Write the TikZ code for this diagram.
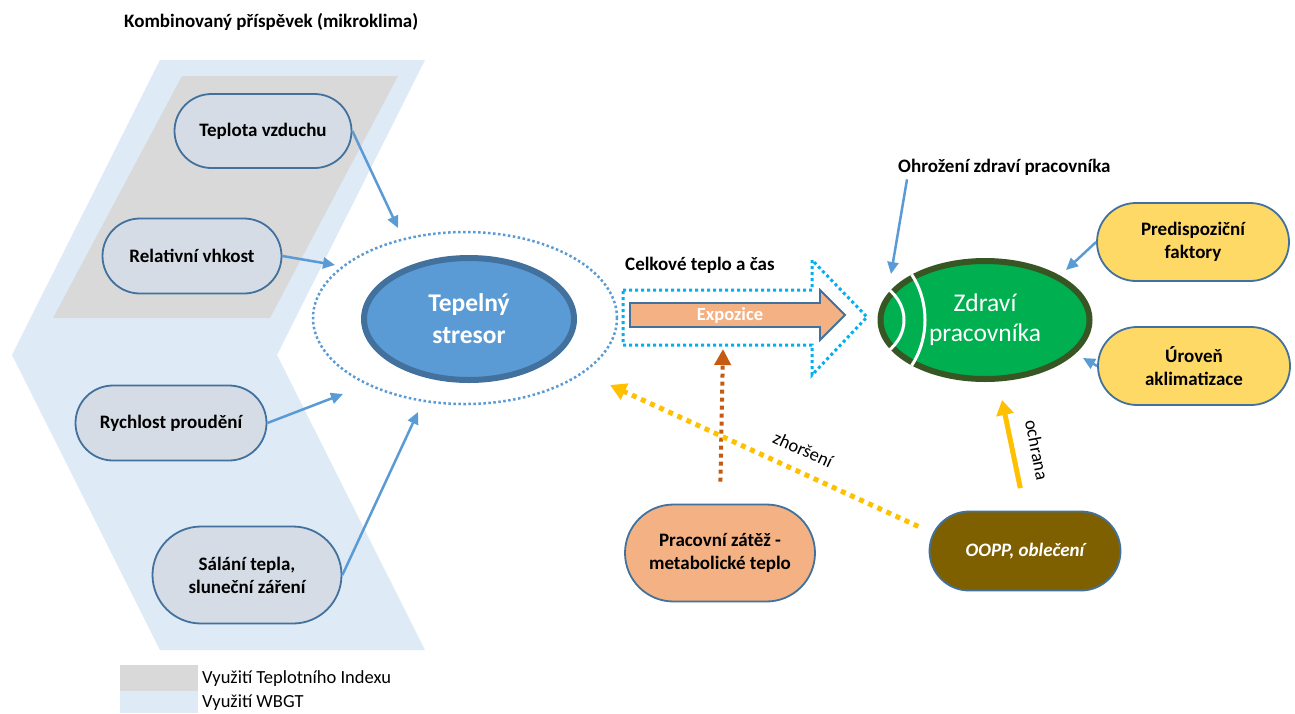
\documentclass[tikz,border=0pt]{standalone}
\usepackage{fontspec}
\setmainfont{Carlito}
\usetikzlibrary{shapes.misc,shapes.geometric,arrows.meta}
\definecolor{wbgt}{HTML}{DEEBF7}
\definecolor{tidx}{HTML}{D9D9D9}
\definecolor{boxfill}{HTML}{D6DCE5}
\definecolor{boxline}{HTML}{41719C}
\definecolor{arrblue}{HTML}{5B9BD5}
\definecolor{strfill}{HTML}{5B9BD5}
\definecolor{strline}{HTML}{41719C}
\definecolor{grfill}{HTML}{00B050}
\definecolor{grline}{HTML}{375623}
\definecolor{yelfill}{HTML}{FFD966}
\definecolor{orfill}{HTML}{F4B183}
\definecolor{oopfill}{HTML}{7F6000}
\definecolor{cyanline}{HTML}{00B0F0}
\definecolor{brownline}{HTML}{C55A11}
\definecolor{goldline}{HTML}{FFC000}
\begin{document}
\begin{tikzpicture}[x=1pt,y=-1pt,
  boldtxt/.style={font=\fontsize{19}{23}\selectfont\bfseries},
  regtxt/.style={font=\fontsize{18.5}{22}\selectfont},
  pill/.style={rounded rectangle, draw=boxline, line width=1.8pt, inner sep=0pt,
    align=center, boldtxt},
  leftbox/.style={pill, fill=boxfill},
  yellowbox/.style={pill, fill=yelfill},
  orangebox/.style={pill, fill=orfill},
  oopbox/.style={pill, fill=oopfill, text=white},
  bluearrow/.style={draw=arrblue, line width=2.5pt, -{Triangle[length=12pt,width=11pt]}},
  cyandot/.style={draw=cyanline, line width=3pt, dash pattern=on 3pt off 3pt},
  browndot/.style={draw=brownline, line width=4pt, dash pattern=on 4pt off 4pt,
    -{Triangle[length=16pt,width=16pt]}},
  golddot/.style={draw=goldline, line width=5pt, dash pattern=on 5pt off 5pt,
    -{Triangle[length=16pt,width=17pt]}},
  goldarrow/.style={draw=goldline, line width=5pt, -{Triangle[length=15pt,width=17pt]}},
]
\useasboundingbox (0,0) rectangle (1295,713);
\fill[white] (0,0) rectangle (1295,713);

% background zones
\fill[wbgt] (160,60) -- (425,60) -- (277,355) -- (425,650) -- (160,650) -- (12,355) -- cycle;
\fill[tidx] (182,76) -- (398,76) -- (270,318) -- (53,318) -- cycle;

% title
\node[boldtxt, anchor=west, inner sep=0pt] (title) at (124,22) {Kombinovaný příspěvek (mikroklima)};

% left factors
\node[leftbox, minimum width=177pt, minimum height=74pt] (tv) at (263,131) {Teplota vzduchu};
\node[leftbox, minimum width=179pt, minimum height=75pt] (rv) at (192,256) {Relativní vhkost};
\node[leftbox, minimum width=191pt, minimum height=75pt] (rp) at (171,423) {Rychlost proudění};
\node[leftbox, minimum width=189pt, minimum height=97pt] (st) at (247,575) {Sálání tepla,\\sluneční záření};

% stressor
\node[ellipse, draw=arrblue, line width=2.5pt, dash pattern=on 2.5pt off 2.5pt,
  minimum width=304pt, minimum height=172pt, inner sep=0pt] (zone) at (465,318) {};
\node[ellipse, fill=strfill, draw=strline, line width=6pt, minimum width=210pt,
  minimum height=122pt, inner sep=0pt, text=white, align=center,
  font=\fontsize{25.5}{32}\selectfont\bfseries] (ts) at (469,319) {Tepelný\\stresor};

% arrow ends
\coordinate (e1) at (398,228);
\coordinate (e2) at (335,265);
\coordinate (e3) at (343,394);
\coordinate (e4) at (418,412);
\draw[bluearrow] (tv.east) -- (e1);
\draw[bluearrow] (rv.east) -- (e2);
\draw[bluearrow] (rp.east) -- (e3);
\draw[bluearrow] (st.east) -- (e4);

% exposure arrows
\node[boldtxt, anchor=west, inner sep=0pt] (celk) at (625,265) {Celkové teplo a čas};
\draw[cyandot] (623,290) -- (812,290) -- (812,260) -- (867,317) -- (812,375) -- (812,345) -- (623,345) -- cycle;
\draw[fill=orfill, draw=boxline, line width=1.8pt] (630,303) -- (820,303) -- (820,290) -- (845,315) -- (820,340) -- (820,327) -- (630,327) -- cycle;
\node[text=white, font=\fontsize{18.5}{22}\selectfont\bfseries, inner sep=0pt] (expo) at (730,315) {Expozice};

% health
\node[ellipse, fill=grfill, draw=grline, line width=6pt, minimum width=209pt,
  minimum height=118pt, inner sep=0pt, text=white, align=center,
  font=\fontsize{25.5}{30}\selectfont] (zp) at (985,320) {Zdraví\\pracovníka};
\begin{scope}
  \clip (985,320) ellipse [x radius=108, y radius=62];
  \draw[white, line width=3pt] (850,320) ellipse [x radius=54, y radius=44];
  \draw[white, line width=3pt] (850,320) ellipse [x radius=75, y radius=80];
\end{scope}

\node[boldtxt, anchor=west, inner sep=0pt] (ohr) at (898,167) {Ohrožení zdraví pracovníka};
\coordinate (e5) at (891,274);
\draw[bluearrow] ([xshift=9pt, yshift=-4pt]ohr.south west) -- (e5);

\node[yellowbox, minimum width=192pt, minimum height=78pt] (pf) at (1193,242) {Predispoziční\\faktory};
\node[yellowbox, minimum width=192pt, minimum height=78pt] (ua) at (1194,366) {Úroveň\\aklimatizace};
\coordinate (e6) at (1066,270);
\coordinate (e7) at (1083,358);
\draw[bluearrow] (pf.west) -- (e6);
\draw[bluearrow] (ua.west) -- (e7);

% work load and protection
\node[orangebox, minimum width=190pt, minimum height=97pt] (pz) at (720,553) {Pracovní zátěž -\\metabolické teplo};
\node[oopbox, minimum width=191pt, minimum height=79pt] (oo) at (1025,551) {\itshape OOPP, oblečení};

\coordinate (b1) at (723,349);
\draw[browndot, shorten <=22pt] (pz.north) -- (b1);

\coordinate (y1) at (610,385);
\draw[golddot, shorten <=16pt] (oo.169) -- (y1) node[pos=0.43, above=13pt, sloped, regtxt, text=black, inner sep=0pt] (zh) {zhoršení};

\coordinate (o1) at (1002,400);
\draw[goldarrow, shorten <=23pt] (oo.north) -- (o1);
\node[regtxt, rotate=-79, inner sep=0pt] (och) at (1037,450) {ochrana};

% legend
\fill[tidx] (120,665) rectangle (198,691);
\fill[wbgt] (120,691) rectangle (198,713);
\node[regtxt, anchor=west, inner sep=0pt] (lg1) at (202,679) {Využití Teplotního Indexu};
\node[regtxt, anchor=west, inner sep=0pt] (lg2) at (202,703) {Využití WBGT};
\end{tikzpicture}
\end{document}
